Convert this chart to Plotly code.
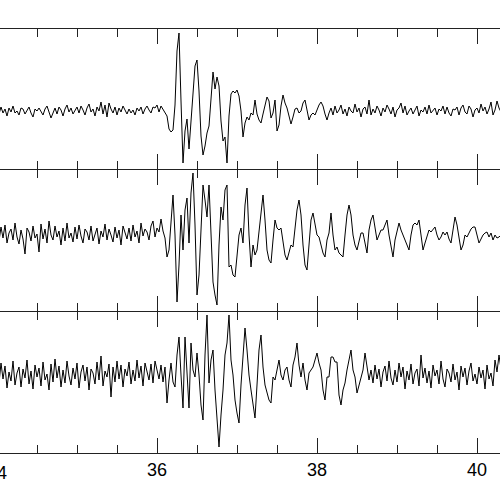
import numpy as np
import plotly.graph_objects as go

# ---------------- data (amplitudes in counts, positive up) ----------------
DT = 0.025          # sample interval, s
ONSET = 36.125      # time of the first sample of each "event" segment, s

x_tick_vals = [36, 38, 40]
x_tick_text = ["36", "38", "40"]

# Trace 1 (top)
tr1_pre = [1,-3,4,-2,2,-5,3,-1,5,-2,0,-4,3,2,-3,1,4,-2,-6,2,0,3,-1,-4,2,5,-1,-7,-2,3,
           -3,4,1,-5,2,6,-1,3,-3,0,4,-2,5,1,-4,3,7,-1,2,-5,4,0,9,-3,6,-6,8,2,-2,4,
           -4,3,-1,5,0,-3,2,-2,1,-4,3,0,4,-3,2,5,1,-2,4,3,6,-1,5,2,-2]
tr1_evt = [-5,-18,-21,-19,6,60,78,10,-52,-20,-8,-38,-10,25,45,51,20,-25,-44,-35,
           -22,-15,15,39,22,34,25,-10,-30,-26,-52,-5,17,20,18,21,15,0,-26,-12,
           -6,-9,-2,-4,11,-3,-9,-12,-3,6,14,10,-7,-2,11,-20,-14,5,16,8,
           3,-5,-13,-6,2,3,-2,0,8,11,2,-9,-4,-2,-4,2,6,9,5,-3,-9,-2]
tr1_post = [3,-4,5,-2,1,6,-3,2,-5,4,0,-2,7,-1,3,-6,2,4,-3,11,-4,2,-2,5,1,-5,3,-1,6,2,
            -3,4,-6,1,3,8,-2,5,-4,0,3,-3,2,5,-5,1,-1,4,-3,6,-2,1,3,-4,2,0,5,-3,4,-2,
            -5,2,1,4,-4,3,6,-1,-3,5,2,-6,1,3,-2,7,0,4,-3,2,9,-4,1,10,3,-1]

# Trace 2 (middle)
tr2_pre = [4,-6,8,-3,10,-8,2,6,-5,12,-2,-9,5,-4,-19,7,3,-6,9,-3,1,-17,11,-4,6,-8,14,0,-5,9,
           -2,4,-10,7,-6,12,-3,2,-7,8,-4,10,-1,-8,6,3,-5,9,-6,1,7,-9,4,-2,11,-5,6,0,-7,8,
           -3,5,-10,9,2,-4,7,-6,10,-2,4,-8,12,-1,6,3,-5,9,14,-2,7,3,16,4,-3]
tr2_evt = [-22,-15,10,40,0,-67,-30,20,-15,25,37,-8,42,62,10,-60,-40,10,50,35,
           18,50,5,-47,-60,-70,-10,28,15,45,50,-32,-30,-40,-42,-20,0,7,-8,30,
           47,0,-32,-10,-20,-15,5,25,40,15,-15,-25,-28,-5,15,7,5,7,-5,-20,
           -25,-18,-10,-12,10,25,35,20,-10,-30,-35,-5,15,22,10,0,-2,-10,-18,-22,
           -5,2,22,0,-15,-12,-18,-20,-22,0,20,30,20,0,-10,-15,-5,2,2,-10,
           -18,5,15,20,5,-5,0,5,5,10,15,0,-12,-22,-5,5,12,5,0,-5,
           -10,-15,0,10,12,10,15,0,-15,-8,0,5,3,6,8,0,-5,-2,3,0,
           3,-4,-8,5,18,10,-5,-15,-10,0,-2,3,6,8,8,0,-8,-4,0,2,
           3,-2,2,-5,0,-3,-2,0]

# Trace 3 (bottom)
tr3_pre = [5,-8,12,-4,9,-13,3,-6,14,-10,2,8,-12,6,-3,15,-9,4,-14,10,-2,7,-11,13,-5,1,-15,11,-7,16,
           -3,9,-12,5,-8,14,-1,-10,7,-4,12,-13,3,10,-6,8,-15,6,2,-9,13,-5,19,-11,4,-2,11,-22,8,-7,
           14,-4,10,-12,6,-1,13,-9,5,-6,15,-3,9,-11,12,2,-5,11,-8,14,6,-4,10,-7,8]
tr3_evt = [-28,-5,12,-7,-12,20,38,0,-33,38,5,-33,32,5,-2,22,0,-30,-45,20,
           60,-8,15,25,-15,-40,-72,-40,-15,20,32,60,15,0,-25,-38,-48,-10,18,47,
           25,0,-15,-30,-43,-10,25,40,8,-10,-18,-25,-28,-2,-5,5,15,0,-5,5,
           8,-5,-12,10,18,32,10,-2,12,-5,-15,2,5,8,15,22,12,5,-15,-25,
           -2,-2,18,18,13,13,-20,-30,-15,-8,5,15,25,5,-2,-18,-10,-2,5,22,
           10,-5,5]
tr3_post = [-8,10,-4,6,-12,3,9,-6,14,-3,-10,5,-7,12,-2,8,-14,4,-5,11,-9,2,6,-11,20,-3,7,-8,4,-13,
            10,-1,5,-9,14,-4,-12,6,2,-7,11,-5,3,-15,9,-2,7,-10,4,12,-6,1,-9,8,-3,5,-14,10,-4,2,
            -11,15,3,20,6]

# display ranges (counts) for each panel
y_ranges = [[-58, 82], [-76, 65], [-78, 63]]
x_range = [34.0375, 40.2875]

# ---------------- figure ----------------
def seg_times(pre, rest):
    n = len(pre) + len(rest)
    return ONSET + DT * (np.arange(n) - len(pre))

traces = [
    (tr1_pre, tr1_evt + tr1_post),
    (tr2_pre, tr2_evt),
    (tr3_pre, tr3_evt + tr3_post),
]

fig = go.Figure()
for k, (pre, rest) in enumerate(traces):
    suffix = "" if k == 0 else str(k + 1)
    fig.add_trace(go.Scatter(
        x=seg_times(pre, rest), y=pre + rest, mode="lines",
        line=dict(color="black", width=1),
        xaxis="x" + suffix, yaxis="y" + suffix, showlegend=False,
        hoverinfo="skip"))

H = 500 - 29 - 47
domains = [
    [(453 - 169) / H, 1.0],
    [(453 - 311) / H, (453 - 170) / H],
    [0.0, (453 - 312) / H],
]

font = dict(family="Liberation Sans Narrow, Liberation Sans, Arial", size=18, color="black")

layout = dict(
    width=500, height=500,
    margin=dict(l=0, r=0, t=29, b=47, pad=0, autoexpand=False),
    paper_bgcolor="white", plot_bgcolor="white",
    showlegend=False,
    font=font,
)
for k in range(3):
    suffix = "" if k == 0 else str(k + 1)
    xa = dict(
        range=x_range, domain=[0, 1], anchor="y" + suffix, automargin=False,
        showline=True, linecolor="#222", linewidth=1, mirror="ticks",
        ticks="inside", ticklen=15, tickwidth=1, tickcolor="#222",
        tickmode="array", tickvals=x_tick_vals, ticktext=x_tick_text,
        showticklabels=(k == 2), showgrid=False, zeroline=False,
        minor=dict(dtick=0.5, tick0=0, ticks="inside", ticklen=8,
                   tickwidth=1, tickcolor="#222", showgrid=False),
        tickfont=font,
    )
    if k != 2:
        xa["matches"] = "x3"
    ya = dict(
        range=y_ranges[k], domain=domains[k], anchor="x" + suffix,
        visible=False, showgrid=False, zeroline=False, fixedrange=True,
        automargin=False,
    )
    layout["xaxis" + suffix] = xa
    layout["yaxis" + suffix] = ya

fig.update_layout(**layout)

# partially visible tick label at the left edge (tick 34 lies just outside the frame)
fig.add_annotation(text="34", xref="paper", yref="paper",
                   x=-3 / 500, y=0, xanchor="center", yanchor="top",
                   yshift=-8, showarrow=False, font=font)

fig.write_html("out.html",
               config={"displayModeBar": False, "staticPlot": True},
               post_script="document.body.style.margin='0';document.body.style.overflow='hidden';")
